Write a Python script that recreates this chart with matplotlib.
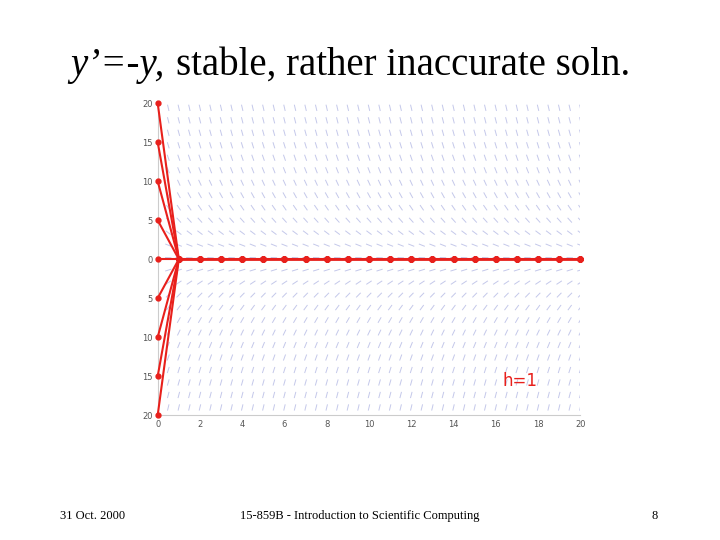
import numpy as np
import matplotlib
matplotlib.use("Agg")
import matplotlib.pyplot as plt
from matplotlib.collections import LineCollection

# Euler steps for y' = -y with h = 1
start_values = [20, 15, 10, 5, 0, -5, -10, -15, -20]
t_steps = list(range(0, 21))
y_ticks = [20, 15, 10, 5, 0, -5, -10, -15, -20]
y_tick_labels = ["20", "15", "10", "5", "0", "5", "10", "15", "20"]
x_ticks = [0, 2, 4, 6, 8, 10, 12, 14, 16, 18, 20]

fig = plt.figure(figsize=(7.2, 5.4), dpi=100)
fig.text(0.097, 0.862, "y\u2019=-y,", fontsize=28, family="Liberation Serif",
         style="italic")
fig.text(0.245, 0.862, "stable, rather inaccurate soln.", fontsize=28,
         family="Liberation Serif")
fig.text(0.083, 0.038, "31 Oct. 2000", fontsize=9, family="Liberation Serif")
fig.text(0.5, 0.038, "15-859B - Introduction to Scientific Computing",
         ha="center", fontsize=9, family="Liberation Serif")
fig.text(0.905, 0.038, "8", fontsize=9, family="Liberation Serif")

ax = fig.add_axes([0.219, 0.231, 0.587, 0.578])
ax.set_xlim(0, 20)
ax.set_ylim(-20, 20)

# direction field (slope -y), drawn as short segments
fw, fh = ax.get_window_extent().width, ax.get_window_extent().height
sx, sy = fw / 20.0, fh / 40.0
segs = []
for x in np.arange(0.5, 20.01, 0.5):
    for y in np.arange(-19.0, 19.51, 1.6):
        dx, dy = 1.0 * sx, -y * sy * 0.6
        n = np.hypot(dx, dy)
        lx, ly = 3.2 * dx / n / sx, 3.2 * dy / n / sy
        segs.append([(x - lx, y - ly), (x + lx, y + ly)])
ax.add_collection(LineCollection(segs, colors="#c4c8ea", linewidths=0.7))

for y0 in start_values:
    ys = [y0] + [0] * (len(t_steps) - 1)
    ax.plot(t_steps, ys, color="#e8201c", lw=1.5, marker="o", ms=3.5,
            zorder=3, clip_on=False)

ax.text(16.3, -16.2, "h=1", color="#e8201c", fontsize=12, family="DejaVu Sans")
ax.set_xticks(x_ticks)
ax.set_yticks(y_ticks)
ax.set_yticklabels(y_tick_labels)
ax.tick_params(labelsize=6, colors="#555555", length=0)
for side in ["top", "right"]:
    ax.spines[side].set_visible(False)
for side in ["left", "bottom"]:
    ax.spines[side].set_color("#cccccc")

fig.savefig("out.png", dpi=100)
